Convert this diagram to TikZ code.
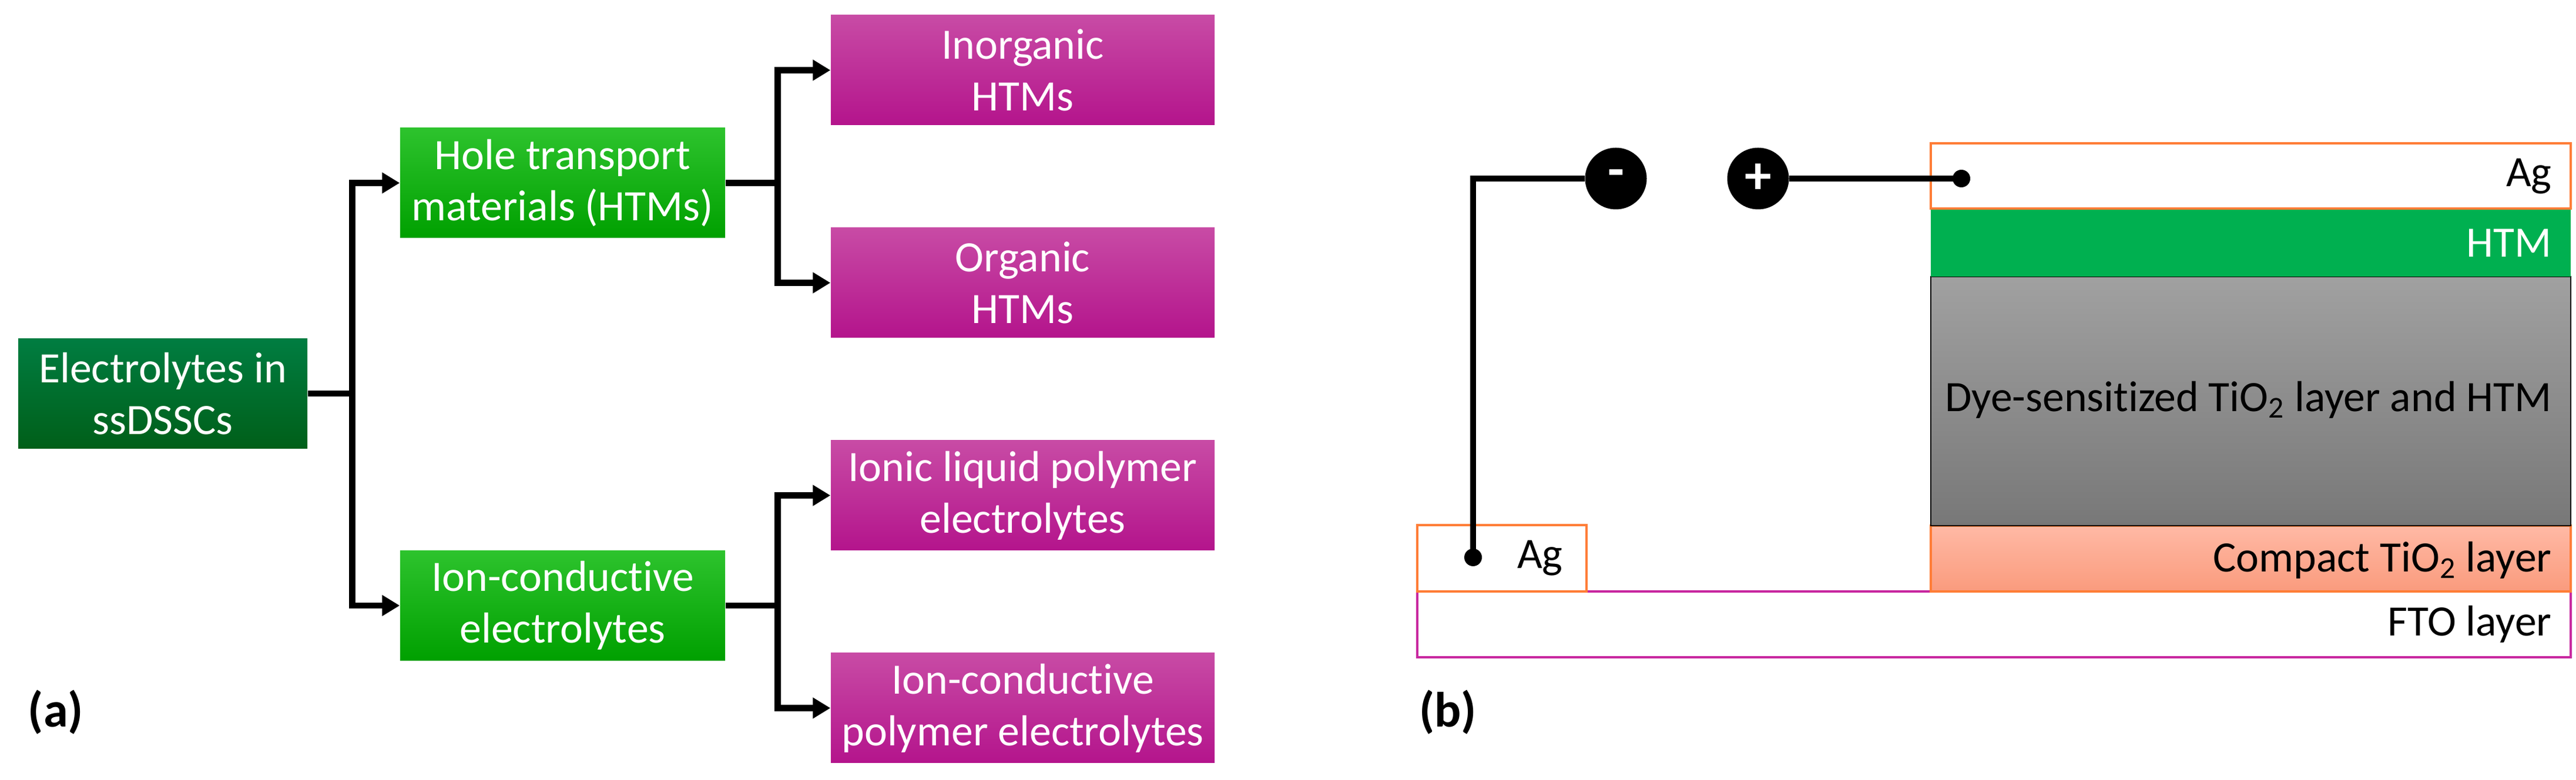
\documentclass[tikz,border=0pt]{standalone}
\usepackage{fontspec}
\setmainfont{Carlito}[Ligatures={NoCommon}]
\usetikzlibrary{arrows.meta}
\definecolor{rootA}{RGB}{0,125,65}
\definecolor{rootB}{RGB}{0,95,25}
\definecolor{grnA}{RGB}{45,195,45}
\definecolor{grnB}{RGB}{0,160,0}
\definecolor{magA}{RGB}{200,75,165}
\definecolor{magB}{RGB}{180,20,140}
\definecolor{agline}{RGB}{255,125,55}
\definecolor{htmfill}{RGB}{0,176,80}
\definecolor{ftoline}{RGB}{200,40,160}
\definecolor{cmpA}{RGB}{255,185,165}
\definecolor{cmpB}{RGB}{250,155,125}
\tikzset{
  box/.style={minimum height=1.87cm, align=center, text=white,
    font=\fontsize{21}{25}\selectfont},
  rootbox/.style={box, minimum width=4.92cm, top color=rootA, bottom color=rootB},
  catbox/.style={box, minimum width=5.53cm, top color=grnA, bottom color=grnB},
  leafbox/.style={box, minimum width=6.53cm, top color=magA, bottom color=magB},
  conn/.style={line width=3pt, -{Triangle[length=0.3cm,width=0.34cm]}},
  layertext/.style={anchor=east, font=\fontsize{21}{25}\selectfont},
  pole/.style={circle, fill=black, text=white, minimum size=1.05cm, inner sep=0pt,
    font=\fontsize{26}{26}\selectfont\bfseries},
}
\begin{document}
\begin{tikzpicture}
\useasboundingbox (0,0) rectangle (43.84,13.28);
% (a)
\node[rootbox] (root) at (2.77,6.58) {Electrolytes in\\ssDSSCs};
\node[catbox] (htms) at (9.575,10.165) {Hole transport\\materials (HTMs)};
\node[catbox] (ionic) at (9.575,2.97) {Ion-conductive\\electrolytes};
\node[leafbox] (inorg) at (17.405,12.085) {Inorganic\\HTMs};
\node[leafbox] (org) at (17.405,8.465) {Organic\\HTMs};
\node[leafbox] (ilpe) at (17.405,4.845) {Ionic liquid polymer\\electrolytes};
\node[leafbox] (icpe) at (17.405,1.225) {Ion-conductive\\polymer electrolytes};
\draw[conn] (root.east) -- ++(0.76,0) coordinate (b1) |- (htms.west);
\draw[conn] (b1) |- (ionic.west);
\draw[conn] (htms.east) -- ++(0.89,0) coordinate (b2) |- (inorg.west);
\draw[conn] (b2) |- (org.west);
\draw[conn] (ionic.east) -- ++(0.89,0) coordinate (b3) |- (ilpe.west);
\draw[conn] (b3) |- (icpe.west);
\node[font=\fontsize{24}{24}\selectfont\bfseries] (la) at (0.95,1.15) {(a)};
% (b)
\draw[ftoline, line width=1.1pt] (24.12,2.09) rectangle (43.75,3.21);
\fill[top color=cmpA, bottom color=cmpB] (32.86,3.21) rectangle (43.75,4.33);
\draw[agline, line width=1.1pt] (32.86,3.21) rectangle (43.75,4.33);
\shade[top color=black!37, bottom color=black!53, draw=black, line width=0.6pt] (32.86,4.33) rectangle (43.75,8.57);
\fill[htmfill] (32.86,8.57) rectangle (43.75,9.71);
\draw[agline, line width=1.1pt] (32.86,9.73) rectangle (43.75,10.84);
\draw[agline, line width=1.1pt, fill=white] (24.12,3.21) rectangle (27.00,4.34);
\node[layertext] (agtop) at (43.55,10.28) {Ag};
\node[layertext, text=white] (htmlab) at (43.55,9.14) {HTM};
\node[layertext] (dyelab) at (43.55,6.47) {Dye-sensitized TiO\textsubscript{2} layer and HTM};
\node[layertext] (cmplab) at (43.55,3.74) {Compact TiO\textsubscript{2} layer};
\node[layertext] (ftolab) at (43.55,2.65) {FTO layer};
\node[layertext] (agbot) at (26.72,3.78) {Ag};
\fill (25.07,3.79) circle (0.15) coordinate (dotl);
\fill (33.38,10.24) circle (0.15) coordinate (dotr);
\node[pole] (minus) at (27.50,10.24) {-};
\node[pole] (plus) at (29.92,10.24) {+};
\draw[line width=2.6pt] (dotl) |- (minus.west);
\draw[line width=2.6pt] (plus.east) -- (dotr);
\node[font=\fontsize{24}{24}\selectfont\bfseries] (lb) at (24.64,1.15) {(b)};
\end{tikzpicture}
\end{document}
